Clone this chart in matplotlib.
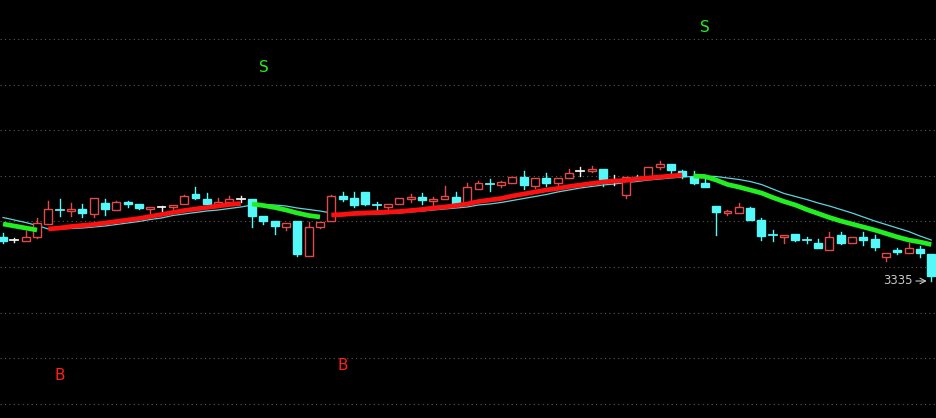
import numpy as np
import matplotlib
matplotlib.use("Agg")
import matplotlib.pyplot as plt
from matplotlib.patches import Rectangle

# K-line data (83 bars), price units
opens = [3379, 3376, 3375, 3379, 3392, 3407, 3405, 3407, 3402, 3413,
         3406, 3414, 3412, 3407, 3409, 3409, 3412, 3422, 3417, 3412,
         3414, 3417, 3417, 3400, 3395, 3389, 3395, 3360, 3389, 3395,
         3420, 3418, 3424, 3412, 3409, 3412, 3417, 3419, 3415, 3417,
         3419, 3413, 3427, 3433, 3431, 3433, 3439, 3430, 3438, 3433,
         3438, 3445, 3445, 3447, 3436, 3421, 3439, 3437, 3449, 3452,
         3445, 3439, 3433, 3410, 3403, 3403, 3408, 3396, 3381, 3379,
         3382, 3376.5, 3373, 3366, 3381, 3373, 3379, 3377, 3359, 3366,
         3363, 3367, 3362]
highs = [3383, 3378, 3385, 3398, 3415, 3417, 3413, 3412, 3418, 3417,
         3415, 3415, 3412, 3409, 3410, 3411, 3421, 3429, 3423, 3418,
         3420, 3420, 3417, 3400, 3395, 3393, 3395, 3394, 3394, 3421,
         3424, 3424, 3424, 3414, 3412, 3418, 3422, 3423, 3419, 3430,
         3424, 3433, 3435, 3437, 3435, 3439, 3445, 3438, 3443, 3438,
         3447, 3449, 3450, 3447, 3441, 3439, 3441, 3449, 3455, 3452,
         3446, 3445, 3438, 3410, 3406, 3413, 3409, 3398, 3386, 3381,
         3382, 3379, 3377, 3384, 3384, 3379, 3384, 3381, 3363, 3368,
         3373, 3370, 3362]
lows = [3373, 3374, 3375, 3378, 3392, 3400, 3400, 3399, 3399, 3401,
        3406, 3409, 3407, 3403, 3404, 3406, 3412, 3417, 3412, 3412,
        3414, 3414, 3389, 3392, 3382, 3386, 3360, 3360, 3388, 3395,
        3415, 3409, 3411, 3405, 3407, 3412, 3414, 3412, 3411, 3417,
        3411, 3413, 3427, 3425, 3429, 3433, 3427, 3428, 3430, 3430,
        3438, 3440, 3444, 3430, 3431, 3418, 3436, 3437, 3447, 3442,
        3438, 3432, 3429, 3381, 3401, 3403, 3396, 3376, 3375, 3373,
        3375, 3373, 3368, 3366, 3372, 3373, 3371, 3366, 3355, 3362,
        3363, 3359, 3335]
closes = [3375, 3376, 3379, 3393, 3407, 3406, 3407, 3403, 3418, 3407,
          3414, 3412, 3408, 3409, 3409, 3411, 3420, 3418, 3412, 3414,
          3417, 3417, 3400, 3395, 3390, 3393, 3362, 3389, 3394, 3420,
          3417, 3411, 3412, 3411, 3412, 3418, 3419, 3416, 3417, 3420,
          3412, 3429, 3433, 3432, 3434, 3439, 3431, 3438, 3433, 3438,
          3443, 3445, 3447, 3437, 3436, 3439, 3437, 3449, 3452, 3446,
          3440, 3433, 3429, 3404, 3405, 3409, 3396, 3380, 3380.5, 3381,
          3376, 3376, 3368, 3379, 3373, 3379, 3376, 3369, 3363, 3364,
          3368, 3363, 3340]

# thick trend line and thin average line
trend_line = [3392, 3390, 3388, 3386, 3387, 3388, 3389.5, 3390.5, 3391.5, 3393,
              3394.5, 3396, 3397.5, 3399.5, 3401.5, 3403.5, 3405.5, 3407, 3408.5, 3410,
              3411.5, 3412.5, 3412, 3410.5, 3408.5, 3406, 3403, 3400.5, 3399, 3401,
              3401.5, 3402.5, 3403, 3403.5, 3404, 3404.5, 3405.5, 3406.5, 3408, 3409,
              3410.5, 3412, 3414.5, 3416, 3417.5, 3420, 3422, 3424, 3426, 3427.5,
              3429.5, 3431, 3432.5, 3434, 3435, 3435.5, 3437, 3438, 3439, 3440,
              3441, 3440, 3439.5, 3436, 3431.5, 3429, 3426, 3423, 3418.5, 3414.5,
              3411, 3406.5, 3402.5, 3398.5, 3395, 3392, 3389, 3386, 3382.5, 3379,
              3376, 3374, 3371.5]
trend_dir = (['d'] * 4 + ['u'] * 18 + ['d'] * 7 + ['u'] * 32 + ['d'] * 22)
avg_line = [3398.5, 3396, 3393.5, 3390.5, 3387, 3387, 3387.5, 3388, 3389, 3390,
            3391.5, 3393, 3394.5, 3396.5, 3398, 3400.5, 3402, 3403.5, 3405, 3406,
            3407.5, 3409, 3411, 3411.5, 3411, 3410, 3408, 3406.5, 3405, 3403,
            3402, 3401.5, 3401.5, 3402, 3402.5, 3403, 3404, 3405, 3406, 3407,
            3408, 3409, 3411, 3412, 3413.5, 3415.5, 3417.5, 3419.5, 3421.5, 3424,
            3426, 3428, 3429.5, 3431, 3432, 3433.5, 3434.5, 3436, 3437, 3438,
            3439, 3439.5, 3440, 3439.5, 3438, 3436.5, 3434.5, 3431.5, 3427, 3422.5,
            3419.5, 3416.5, 3413, 3410, 3406.5, 3403, 3399, 3395, 3391.5, 3388,
            3384.5, 3380, 3376]

# buy / sell signal labels: bar index, price, text
sig_idx = [5, 23, 30, 62]
sig_price = [3240, 3548, 3251, 3588]
sig_text = ['B', 'S', 'B', 'S']

low_label = '3335'

UP = '#e04a48'
DOWN = '#54f8f8'
DOJI = '#f0f0f0'

fig = plt.figure(figsize=(9.36, 4.18), dpi=100, facecolor='black')
ax = fig.add_axes([0, 0, 1, 1])
ax.set_facecolor('black')
ax.set_xlim(-0.27, 82.42)
ax.set_ylim(3198, 3616)
ax.axis('off')

# dotted grid
for g in np.arange(3577, 3200, -45.6):
    ax.axhline(g, color='#5a5a5a', lw=0.8, ls=(0, (1, 3)), zorder=0)

n = len(opens)
w = 0.7
for i in range(n):
    o, h, l, c = opens[i], highs[i], lows[i], closes[i]
    if c > o:
        col = UP
    elif c < o:
        col = DOWN
    else:
        col = DOJI
    top, bot = max(o, c), min(o, c)
    ax.plot([i, i], [top, h], color=col, lw=1, zorder=3)
    ax.plot([i, i], [l, bot], color=col, lw=1, zorder=3)
    if top - bot < 1.2:
        ax.plot([i - w / 2, i + w / 2], [(top + bot) / 2] * 2, color=col, lw=1.3, zorder=3)
    elif col == UP:
        ax.add_patch(Rectangle((i - w / 2, bot), w, top - bot, facecolor='black',
                               edgecolor=col, lw=1, zorder=3))
    else:
        ax.add_patch(Rectangle((i - w / 2, bot), w, top - bot, facecolor=col,
                               edgecolor=col, lw=1, zorder=3))

x = np.arange(n)
ax.plot(x, avg_line, color='#5fd3dc', lw=0.9, zorder=2)

# thick line: one piece per run of same direction
start = 0
for i in range(1, n + 1):
    if i == n or trend_dir[i] != trend_dir[start]:
        col = '#ff1010' if trend_dir[start] == 'u' else '#22ee22'
        ax.plot(x[start:i], trend_line[start:i], color=col, lw=3.4,
                solid_capstyle='butt', solid_joinstyle='round', zorder=4)
        start = i

for i, p, t in zip(sig_idx, sig_price, sig_text):
    ax.text(i, p, t, color='#ff2020' if t == 'B' else '#22ee22', fontsize=11,
            ha='center', va='center', zorder=5)

li = n - 1
ax.annotate('', xy=(li - 0.15, lows[li]), xytext=(li - 1.6, lows[li]),
            arrowprops=dict(arrowstyle='->', color='#c8c8c8', lw=0.8))
ax.text(li - 1.65, lows[li], low_label, color='#c8c8c8', fontsize=8.5,
        ha='right', va='center')

fig.savefig('out.png', dpi=100, facecolor='black')
